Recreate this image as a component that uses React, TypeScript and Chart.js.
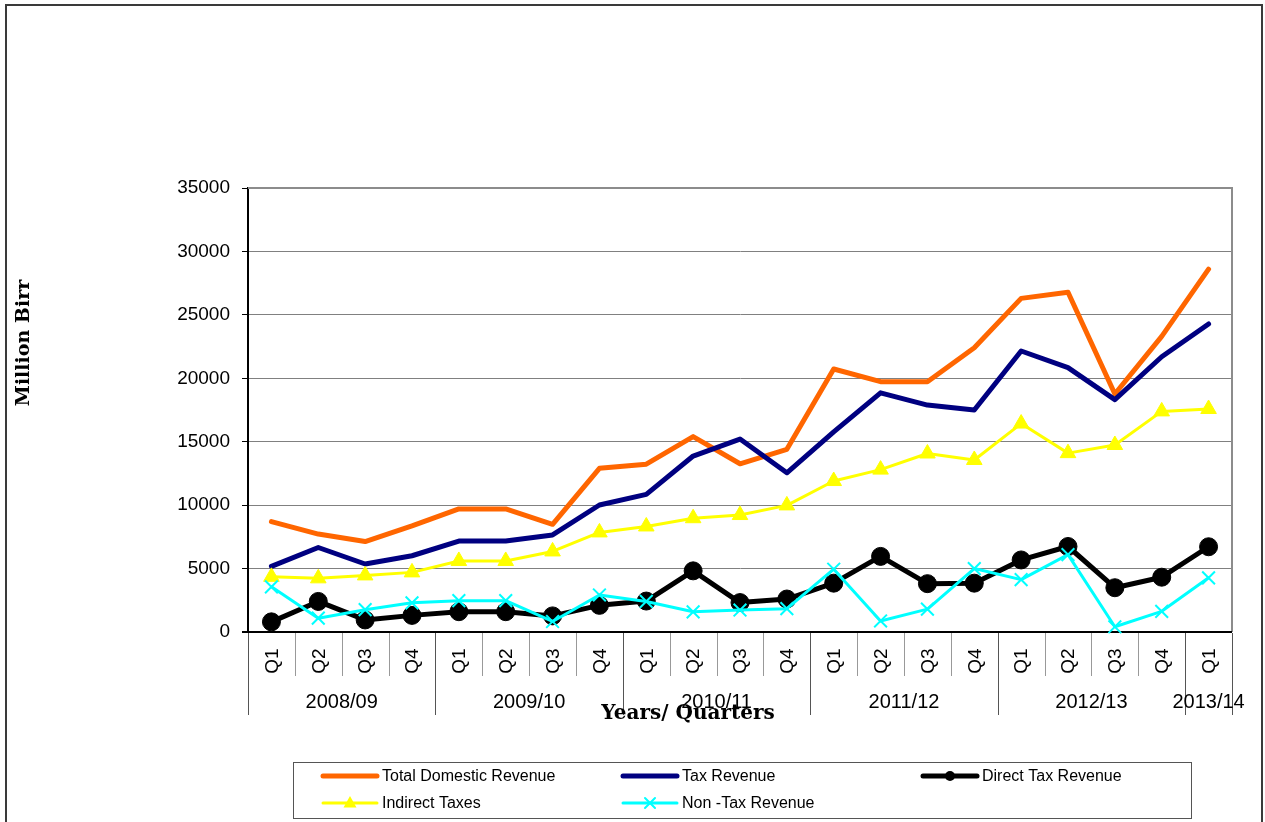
import React, { useEffect, useRef } from "react";
import { Chart, registerables } from "chart.js";

Chart.register(...registerables);

const quarters = [
  "Q1", "Q2", "Q3", "Q4",
  "Q1", "Q2", "Q3", "Q4",
  "Q1", "Q2", "Q3", "Q4",
  "Q1", "Q2", "Q3", "Q4",
  "Q1", "Q2", "Q3", "Q4",
  "Q1",
];
const years = ["2008/09", "2009/10", "2010/11", "2011/12", "2012/13", "2013/14"];
const yearSpans = [4, 4, 4, 4, 4, 1];

const totalDomesticRevenue = [
  8700, 7720, 7130, 8360, 9700, 9700, 8490, 12900, 13230, 15400, 13260, 14400,
  20730, 19730, 19730, 22400, 26300, 26780, 18760, 23300, 28600,
];
const taxRevenue = [
  5170, 6660, 5360, 6010, 7170, 7170, 7650, 10010, 10850, 13870, 15210, 12550,
  15780, 18850, 17890, 17500, 22150, 20840, 18320, 21700, 24280,
];
const directTaxRevenue = [
  800, 2410, 950, 1310, 1600, 1600, 1270, 2100, 2440, 4820, 2320, 2600,
  3850, 5960, 3810, 3850, 5680, 6740, 3490, 4320, 6720,
];
const indirectTaxes = [
  4350, 4230, 4460, 4700, 5600, 5600, 6350, 7850, 8320, 8970, 9220, 9980,
  11900, 12800, 14070, 13560, 16430, 14100, 14740, 17390, 17580,
];
const nonTaxRevenue = [
  3560, 1090, 1760, 2300, 2470, 2470, 830, 2920, 2410, 1590, 1730, 1840,
  4950, 870, 1800, 5000, 4130, 6100, 410, 1630, 4270,
];

const yTicks = [0, 5000, 10000, 15000, 20000, 25000, 30000, 35000];

const SANS = "'Liberation Sans', Arial, sans-serif";
const SERIF = "'DejaVu Serif', serif";

type LegendItem = {
  label: string;
  color: string;
  width: number;
  marker: "none" | "circle" | "triangle" | "cross";
  col: number;
  row: number;
};

const legendItems: LegendItem[] = [
  { label: "Total Domestic Revenue", color: "#FF6600", width: 5, marker: "none", col: 0, row: 0 },
  { label: "Tax Revenue", color: "#000080", width: 5, marker: "none", col: 1, row: 0 },
  { label: "Direct Tax Revenue", color: "#000000", width: 5, marker: "circle", col: 2, row: 0 },
  { label: "Indirect Taxes", color: "#FFFF00", width: 3, marker: "triangle", col: 0, row: 1 },
  { label: "Non -Tax Revenue", color: "#00FFFF", width: 3, marker: "cross", col: 1, row: 1 },
];

function drawMarker(ctx: CanvasRenderingContext2D, kind: string, x: number, y: number, color: string) {
  ctx.save();
  ctx.fillStyle = color;
  ctx.strokeStyle = color;
  if (kind === "circle") {
    ctx.beginPath();
    ctx.arc(x, y, 5, 0, Math.PI * 2);
    ctx.fill();
  } else if (kind === "triangle") {
    ctx.beginPath();
    ctx.moveTo(x, y - 7);
    ctx.lineTo(x + 6.5, y + 4.5);
    ctx.lineTo(x - 6.5, y + 4.5);
    ctx.closePath();
    ctx.fill();
  } else if (kind === "cross") {
    ctx.lineWidth = 2;
    ctx.beginPath();
    ctx.moveTo(x - 5, y - 5);
    ctx.lineTo(x + 5, y + 5);
    ctx.moveTo(x + 5, y - 5);
    ctx.lineTo(x - 5, y + 5);
    ctx.stroke();
  }
  ctx.restore();
}

const decorPlugin = {
  id: "decor",
  beforeDatasetsDraw(chart: any) {
    const { ctx, chartArea: a } = chart;
    ctx.save();
    ctx.strokeStyle = "#8c8c8c";
    ctx.lineWidth = 2;
    ctx.beginPath();
    ctx.moveTo(a.left, a.top);
    ctx.lineTo(a.right, a.top);
    ctx.lineTo(a.right, a.bottom);
    ctx.stroke();
    ctx.strokeStyle = "#000000";
    ctx.beginPath();
    ctx.moveTo(a.left - 6, a.bottom);
    ctx.lineTo(a.right, a.bottom);
    ctx.stroke();
    ctx.restore();
  },
  afterDraw(chart: any) {
    const { ctx, chartArea: a } = chart;
    const xs = chart.scales.x;
    const step = xs.getPixelForValue(1) - xs.getPixelForValue(0);
    ctx.save();

    // separators
    const yearBounds = new Set<number>();
    let acc = 0;
    yearBounds.add(0);
    yearSpans.forEach((s) => {
      acc += s;
      yearBounds.add(acc);
    });
    for (let i = 0; i <= quarters.length; i++) {
      const bx = Math.round(xs.getPixelForValue(0) - step / 2 + i * step) + 0.5;
      const long = yearBounds.has(i);
      ctx.strokeStyle = long ? "#555555" : "#999999";
      ctx.lineWidth = 1;
      ctx.beginPath();
      ctx.moveTo(bx, a.bottom + 1);
      ctx.lineTo(bx, long ? 715 : 676);
      ctx.stroke();
    }

    // quarter labels
    ctx.fillStyle = "#000";
    ctx.font = `19px ${SANS}`;
    ctx.textAlign = "center";
    ctx.textBaseline = "middle";
    quarters.forEach((q, i) => {
      const x = xs.getPixelForValue(i);
      ctx.save();
      ctx.translate(x + 1, 661);
      ctx.rotate(-Math.PI / 2);
      ctx.fillText(q, 0, 0);
      ctx.restore();
    });

    // year labels
    ctx.font = `20px ${SANS}`;
    let start = 0;
    years.forEach((y, k) => {
      const end = start + yearSpans[k] - 1;
      const cx = (xs.getPixelForValue(start) + xs.getPixelForValue(end)) / 2;
      ctx.fillText(y, cx, 702);
      start += yearSpans[k];
    });

    // axis titles
    ctx.font = `bold 20px ${SERIF}`;
    ctx.fillText("Years/ Quarters", 688, 714);
    ctx.save();
    ctx.translate(24, 343);
    ctx.rotate(-Math.PI / 2);
    ctx.font = `bold 19px ${SERIF}`;
    ctx.fillText("Million Birr", 0, 0);
    ctx.restore();

    // legend
    ctx.strokeStyle = "#555555";
    ctx.lineWidth = 1;
    ctx.strokeRect(293.5, 762.5, 898, 56);
    ctx.font = `16px ${SANS}`;
    ctx.textAlign = "left";
    legendItems.forEach((it) => {
      const x0 = 323 + it.col * 300;
      const y0 = 776 + it.row * 27;
      ctx.strokeStyle = it.color;
      ctx.lineWidth = it.width;
      ctx.lineCap = "round";
      ctx.beginPath();
      ctx.moveTo(x0, y0);
      ctx.lineTo(x0 + 54, y0);
      ctx.stroke();
      if (it.marker !== "none") drawMarker(ctx, it.marker, x0 + 27, y0, it.color);
      ctx.fillStyle = "#000";
      ctx.fillText(it.label, x0 + 59, y0 + 1);
    });

    // outer border
    ctx.strokeStyle = "#3a3a3a";
    ctx.lineWidth = 2;
    ctx.lineCap = "butt";
    ctx.strokeRect(6, 5, 1256, 840);
    ctx.restore();
  },
};

export default function App() {
  const ref = useRef<HTMLCanvasElement | null>(null);

  useEffect(() => {
    if (!ref.current) return;
    const chart = new Chart(ref.current, {
      type: "line",
      data: {
        labels: quarters,
        datasets: [
          {
            label: "Total Domestic Revenue",
            data: totalDomesticRevenue,
            borderColor: "#FF6600",
            backgroundColor: "#FF6600",
            borderWidth: 5,
            pointRadius: 0,
            order: 5,
            clip: false as any,
          },
          {
            label: "Tax Revenue",
            data: taxRevenue,
            borderColor: "#000080",
            backgroundColor: "#000080",
            borderWidth: 5,
            pointRadius: 0,
            order: 4,
            clip: false as any,
          },
          {
            label: "Direct Tax Revenue",
            data: directTaxRevenue,
            borderColor: "#000000",
            backgroundColor: "#000000",
            borderWidth: 5,
            pointStyle: "circle",
            pointRadius: 9,
            pointBorderWidth: 1,
            order: 3,
            clip: false as any,
          },
          {
            label: "Indirect Taxes",
            data: indirectTaxes,
            borderColor: "#FFFF00",
            backgroundColor: "#FFFF00",
            borderWidth: 3,
            pointStyle: "triangle",
            pointRadius: 9,
            pointBorderWidth: 1,
            order: 2,
            clip: false as any,
          },
          {
            label: "Non -Tax Revenue",
            data: nonTaxRevenue,
            borderColor: "#00FFFF",
            backgroundColor: "#00FFFF",
            borderWidth: 3,
            pointStyle: "crossRot",
            pointRadius: 9,
            pointBorderWidth: 2,
            order: 1,
            clip: false as any,
          },
        ],
      },
      options: {
        responsive: false,
        animation: false,
        events: [],
        layout: { padding: { left: 138, right: 33, top: 188, bottom: 190 } },
        plugins: {
          legend: { display: false },
          tooltip: { enabled: false },
          title: { display: false },
        },
        elements: { line: { tension: 0, borderJoinStyle: "round", borderCapStyle: "round" } },
        scales: {
          x: {
            type: "category",
            display: false,
            offset: true,
          },
          y: {
            min: 0,
            max: 35000,
            afterFit: (scale: any) => {
              scale.width = 110;
            },
            afterBuildTicks: (scale: any) => {
              scale.ticks = yTicks.map((v) => ({ value: v }));
            },
            ticks: {
              color: "#000",
              font: { family: SANS, size: 19 },
              padding: 12,
              callback: (v: any) => String(v),
            },
            grid: {
              color: "#808080",
              lineWidth: 1,
              tickLength: 6,
              tickColor: "#000",
            },
            border: { color: "#000", width: 2 },
          },
        },
      },
      plugins: [decorPlugin],
    });
    return () => chart.destroy();
  }, []);

  return (
    <div style={{ position: "absolute", left: 0, top: 0, width: 1265, height: 822, background: "#fff" }}>
      <canvas ref={ref} width={1265} height={822} style={{ display: "block", width: 1265, height: 822 }} />
    </div>
  );
}
